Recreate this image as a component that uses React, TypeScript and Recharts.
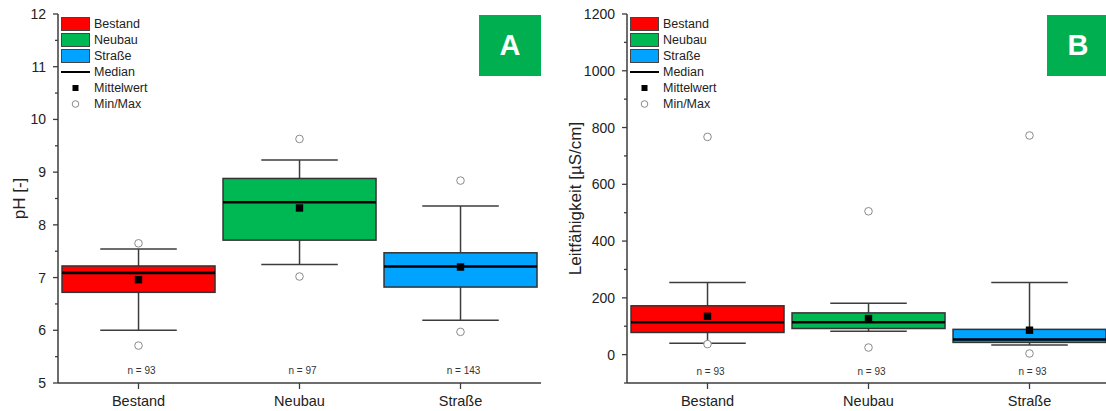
import React from "react"
import { ComposedChart, Bar, Scatter, XAxis, YAxis, Legend } from "recharts"

// categories and box plot statistics
const categories = ["Bestand", "Neubau", "Straße"]
const boxColors = ["#FF0000", "#00B853", "#00A3FF"]

// A: pH
const phQ1 = [6.72, 7.71, 6.82]
const phQ3 = [7.22, 8.88, 7.47]
const phMedian = [7.09, 8.43, 7.21]
const phMean = [6.96, 8.32, 7.2]
const phWhiskerLow = [6.0, 7.25, 6.19]
const phWhiskerHigh = [7.54, 9.23, 8.36]
const phMin = [5.71, 7.02, 5.97]
const phMax = [7.65, 9.63, 8.84]
const phN = [93, 97, 143]
const phTicks = [5, 5.5, 6, 6.5, 7, 7.5, 8, 8.5, 9, 9.5, 10, 10.5, 11, 11.5, 12]

// B: Leitfähigkeit
const ecQ1 = [78, 92, 43]
const ecQ3 = [172, 147, 89]
const ecMedian = [114, 114, 53]
const ecMean = [135, 127, 86]
const ecWhiskerLow = [40, 82, 34]
const ecWhiskerHigh = [254, 181, 254]
const ecMin = [37, 25, 4]
const ecMax = [767, 505, 772]
const ecN = [93, 93, 93]
const ecTicks = [-100, 0, 100, 200, 300, 400, 500, 600, 700, 800, 900, 1000, 1100, 1200]

const legendItems = [
  { label: "Bestand", kind: "box", color: boxColors[0] },
  { label: "Neubau", kind: "box", color: boxColors[1] },
  { label: "Straße", kind: "box", color: boxColors[2] },
  { label: "Median", kind: "line" },
  { label: "Mittelwert", kind: "square" },
  { label: "Min/Max", kind: "circle" },
]

const FRAME = "#3c3c3c"
const TEXT = "#222"
const BADGE = "#00AF50"

function buildRows(
  q1: number[], q3: number[], median: number[], mean: number[],
  wLow: number[], wHigh: number[], min: number[], max: number[], n: number[]
) {
  return categories.map((name, i) => ({
    name,
    q1: q1[i],
    q3: q3[i],
    median: median[i],
    mean: mean[i],
    whiskerLow: wLow[i],
    whiskerHigh: wHigh[i],
    min: min[i],
    max: max[i],
    n: n[i],
    color: boxColors[i],
  }))
}

const phRows = buildRows(phQ1, phQ3, phMedian, phMean, phWhiskerLow, phWhiskerHigh, phMin, phMax, phN)
const ecRows = buildRows(ecQ1, ecQ3, ecMedian, ecMean, ecWhiskerLow, ecWhiskerHigh, ecMin, ecMax, ecN)

// box, whiskers and median; the pixel scale comes from the bar that recharts laid out for [q1, q3]
function BoxShape(props: any) {
  const { x, y, width, height, payload } = props
  const top = Math.min(y, y + height)
  const h = Math.abs(height)
  const k = h / (payload.q3 - payload.q1)
  const py = (v: number) => top + (payload.q3 - v) * k
  const cx = x + width / 2
  const cap = width / 4
  return (
    <g>
      <line x1={cx} x2={cx} y1={py(payload.whiskerHigh)} y2={py(payload.whiskerLow)} stroke={FRAME} strokeWidth={1.5} />
      <line x1={cx - cap} x2={cx + cap} y1={py(payload.whiskerHigh)} y2={py(payload.whiskerHigh)} stroke={FRAME} strokeWidth={1.5} />
      <line x1={cx - cap} x2={cx + cap} y1={py(payload.whiskerLow)} y2={py(payload.whiskerLow)} stroke={FRAME} strokeWidth={1.5} />
      <rect x={x} y={top} width={width} height={h} fill={payload.color} stroke="#333" strokeWidth={1.5} />
      <line x1={x} x2={x + width} y1={py(payload.median)} y2={py(payload.median)} stroke="#000" strokeWidth={2.6} />
    </g>
  )
}

const MeanShape = (p: any) => <rect x={p.cx - 3.7} y={p.cy - 3.7} width={7.4} height={7.4} fill="#000" />
const CircleShape = (p: any) => <circle cx={p.cx} cy={p.cy} r={3.8} fill="#fff" stroke="#8a8a8a" strokeWidth={1} />
const NShape = (p: any) => (
  <text x={p.cx + 3} y={p.cy} textAnchor="middle" dominantBaseline="central" fontSize={10} fill="#333">
    n = {p.payload.n}
  </text>
)

function makeYTick(major: (v: number) => boolean) {
  return (props: any) => {
    const { x, y, payload } = props
    const isMajor = major(payload.value)
    return (
      <g>
        <line x1={x - (isMajor ? 5 : 3)} x2={x} y1={y} y2={y} stroke={FRAME} strokeWidth={1.3} />
        {isMajor && (
          <text x={x - 12} y={y} textAnchor="end" dominantBaseline="central" fontSize={14} fill={TEXT}>
            {payload.value}
          </text>
        )}
      </g>
    )
  }
}

function LegendBox() {
  return (
    <svg width={120} height={96} style={{ display: "block" }}>
      {legendItems.map((item, i) => {
        const cy = 7 + i * 16
        return (
          <g key={item.label}>
            {item.kind === "box" && (
              <rect x={0.5} y={cy - 6.5} width={28} height={13} fill={item.color} stroke="#444" strokeWidth={1} />
            )}
            {item.kind === "line" && <line x1={0} x2={29} y1={cy} y2={cy} stroke="#000" strokeWidth={2} />}
            {item.kind === "square" && <rect x={11.5} y={cy - 3} width={6} height={6} fill="#000" />}
            {item.kind === "circle" && <circle cx={14.5} cy={cy} r={3.3} fill="#fff" stroke="#8a8a8a" strokeWidth={1} />}
            <text x={33} y={cy} dominantBaseline="central" fontSize={12.5} fill={TEXT}>
              {item.label}
            </text>
          </g>
        )
      })}
    </svg>
  )
}

interface PanelProps {
  rows: any[]
  domain: [number, number]
  ticks: number[]
  major: (v: number) => boolean
  yLabel: string
  yAxisWidth: number
  labelOffset: number
  nLabelY: number
  width: number
  marginRight: number
}

function BoxPanel({ rows, domain, ticks, major, yLabel, yAxisWidth, labelOffset, nLabelY, width, marginRight }: PanelProps) {
  return (
    <ComposedChart
      width={width}
      height={411}
      data={rows}
      margin={{ top: 14, right: marginRight, bottom: 0, left: 0 }}
      barCategoryGap="2.5%"
    >
      <XAxis
        dataKey="name"
        height={28}
        tickSize={6}
        tickMargin={7}
        axisLine={{ stroke: FRAME, strokeWidth: 1.5 }}
        tickLine={{ stroke: FRAME, strokeWidth: 1.3 }}
        tick={{ fontSize: 14.5, fill: TEXT }}
      />
      <XAxis xAxisId="top" orientation="top" dataKey="name" height={0} tick={false} tickLine={false} axisLine={{ stroke: FRAME, strokeWidth: 1.5 }} />
      <YAxis
        type="number"
        domain={domain}
        ticks={ticks}
        interval={0}
        width={yAxisWidth}
        tickSize={0}
        tickMargin={0}
        tickLine={false}
        axisLine={{ stroke: FRAME, strokeWidth: 1.5 }}
        tick={makeYTick(major)}
        label={{
          value: yLabel,
          angle: -90,
          position: "insideLeft",
          offset: labelOffset,
          style: { fontSize: 17, fill: TEXT, textAnchor: "middle" },
        }}
      />
      <YAxis yAxisId="right" orientation="right" domain={[0, 1]} width={0} tick={false} tickLine={false} axisLine={{ stroke: FRAME, strokeWidth: 1.5 }} />
      <Legend
        layout="vertical"
        align="center"
        verticalAlign="middle"
        content={() => <LegendBox />}
        wrapperStyle={{ left: yAxisWidth + 3, top: 17, width: 120, height: 96 }}
      />
      <Bar dataKey={(d: any) => [d.q1, d.q3]} shape={BoxShape} isAnimationActive={false} />
      <Scatter dataKey="min" shape={CircleShape} isAnimationActive={false} />
      <Scatter dataKey="max" shape={CircleShape} isAnimationActive={false} />
      <Scatter dataKey="mean" shape={MeanShape} isAnimationActive={false} />
      <Scatter dataKey={() => nLabelY} shape={NShape} isAnimationActive={false} />
    </ComposedChart>
  )
}

function Badge({ left, width, letter }: { left: number; width: number; letter: string }) {
  return (
    <div
      style={{
        position: "absolute",
        left,
        top: 15,
        width,
        height: 61,
        background: BADGE,
        color: "#fff",
        fontWeight: "bold",
        fontSize: 29,
        display: "flex",
        alignItems: "center",
        justifyContent: "center",
      }}
    >
      {letter}
    </div>
  )
}

export default function App() {
  return (
    <div
      style={{
        position: "absolute",
        left: 0,
        top: 0,
        width: 1106,
        height: 411,
        overflow: "hidden",
        background: "#fff",
        fontFamily: "'Liberation Sans', Arial, sans-serif",
      }}
    >
      <div style={{ position: "absolute", left: 0, top: 0 }}>
        <BoxPanel
          rows={phRows}
          domain={[5, 12]}
          ticks={phTicks}
          major={(v) => Number.isInteger(v)}
          yLabel="pH [-]"
          yAxisWidth={58}
          labelOffset={19}
          nLabelY={5.24}
          width={550}
          marginRight={9}
        />
      </div>
      <div style={{ position: "absolute", left: 560, top: 0 }}>
        <BoxPanel
          rows={ecRows}
          domain={[-100, 1200]}
          ticks={ecTicks}
          major={(v) => v % 200 === 0}
          yLabel="Leitfähigkeit [µS/cm]"
          yAxisWidth={67}
          labelOffset={15}
          nLabelY={-58}
          width={560}
          marginRight={10}
        />
      </div>
      <Badge left={479} width={62} letter="A" />
      <Badge left={1047} width={62} letter="B" />
    </div>
  )
}
